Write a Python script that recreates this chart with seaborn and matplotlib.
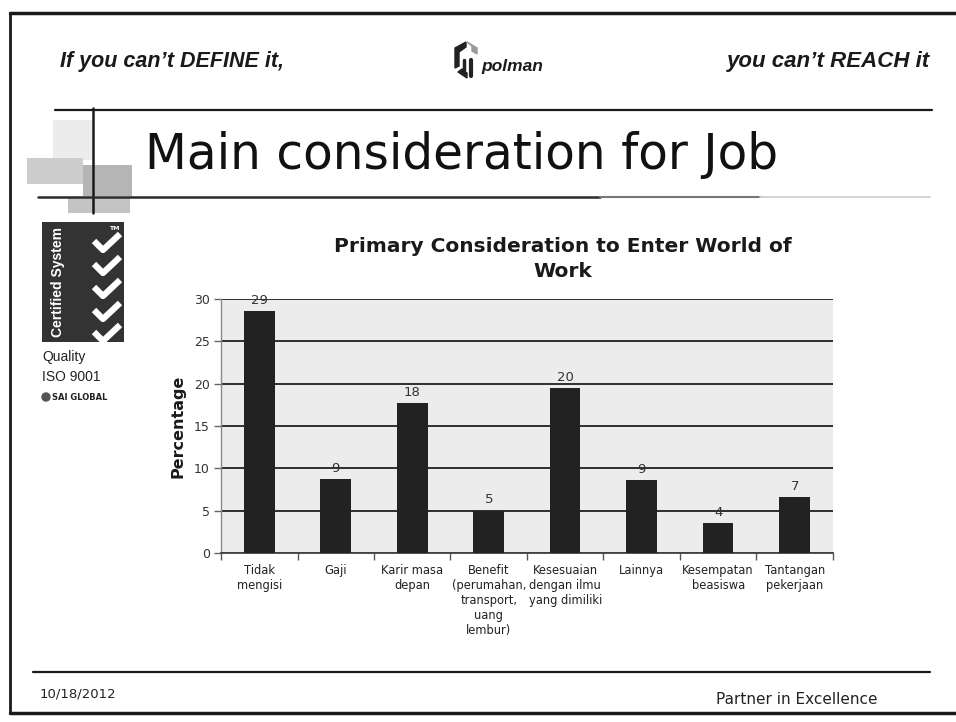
import matplotlib
matplotlib.use('Agg')
import matplotlib.pyplot as plt
from matplotlib.patches import Rectangle, Polygon
import pandas as pd
import seaborn as sns

# Chart data
categories = ['Tidak\nmengisi', 'Gaji', 'Karir masa\ndepan',
              'Benefit\n(perumahan,\ntransport,\nuang\nlembur)',
              'Kesesuaian\ndengan ilmu\nyang dimiliki', 'Lainnya',
              'Kesempatan\nbeasiswa', 'Tantangan\npekerjaan']
percentages = [28.6, 8.7, 17.7, 5.0, 19.5, 8.6, 3.5, 6.6]
y_ticks = [0, 5, 10, 15, 20, 25, 30]

df = pd.DataFrame({'category': categories, 'pct': percentages})

sns.set_theme(style='white')
plt.rcParams['font.family'] = ['DejaVu Sans']

fig = plt.figure(figsize=(9.56, 7.22), dpi=100)
fig.patch.set_facecolor('white')

# Background axes in pixel coordinates for the slide decoration
bg = fig.add_axes([0, 0, 1, 1], zorder=0)
bg.set_xlim(0, 956)
bg.set_ylim(722, 0)
bg.axis('off')

# slide frame
bg.plot([10, 956], [13, 13], color='#1a1a1a', lw=2.5)
bg.plot([10, 10], [13, 713], color='#1a1a1a', lw=2)
bg.plot([10, 956], [713, 713], color='#1a1a1a', lw=2.5)

# header
bg.text(60, 62, "If you can\u2019t DEFINE it,", family='Liberation Sans', weight='bold',
        style='italic', fontsize=15.5, va='center', ha='left', color='#1a1a1a')
bg.text(930, 62, "you can\u2019t REACH it", family='Liberation Sans', weight='bold',
        style='italic', fontsize=16, va='center', ha='right', color='#1a1a1a')
# polman logo
bg.add_patch(Polygon([[455, 48], [466, 42], [466, 47], [459, 52], [459, 66], [455, 68]],
                     closed=True, color='#222222'))
bg.add_patch(Polygon([[467, 42], [477, 48], [477, 54], [472, 51], [472, 46]],
                     closed=True, color='#9a9a9a'))
bg.add_patch(Polygon([[458, 72], [467, 78], [467, 73], [462, 69]], closed=True, color='#222222'))
bg.plot([471, 471], [60, 76], color='#222222', lw=3)
bg.plot([464, 464], [60, 70], color='#222222', lw=2.5)
bg.text(481, 66, 'polman', family='Liberation Sans', weight='bold', style='italic',
        fontsize=12.5, va='center', ha='left', color='#1a1a1a')

# title block decoration
bg.add_patch(Rectangle((53, 120), 39, 40, color='#ececec', lw=0))
bg.add_patch(Rectangle((27, 158), 56, 26, color='#cdcdcd', lw=0))
bg.add_patch(Rectangle((83, 165), 49, 31, color='#b5b5b5', lw=0))
bg.add_patch(Rectangle((68, 197), 62, 16, color='#c4c4c4', lw=0))
bg.plot([55, 932], [110, 110], color='#1a1a1a', lw=1.6)
bg.plot([93, 93], [108, 213], color='#1a1a1a', lw=1.8)
bg.plot([38, 600], [197, 197], color='#2a2a2a', lw=1.8)
bg.plot([600, 760], [197, 197], color='#777777', lw=1.5)
bg.plot([760, 930], [197, 197], color='#cccccc', lw=1.2)
bg.text(145, 155, 'Main consideration for Job', fontsize=35, va='center', ha='left',
        color='#111111')

# certified system badge
bg.add_patch(Rectangle((42, 222), 82, 120, color='#333333', lw=0))
bg.text(58, 282, 'Certified System', rotation=90, color='white', weight='bold',
        family='Liberation Sans', fontsize=10, va='center', ha='center')
for cy in [245, 268, 291, 314, 336]:
    bg.plot([94, 103, 120], [cy - 4, cy + 5, cy - 11], color='white', lw=4.5,
            solid_capstyle='butt')
bg.text(114, 228, 'TM', color='white', fontsize=4.5, weight='bold', ha='center', va='center')
bg.text(42, 357, 'Quality', fontsize=10, family='Liberation Sans', va='center',
        color='#222222')
bg.text(42, 377, 'ISO 9001', fontsize=10, family='Liberation Sans', va='center',
        color='#222222')
bg.add_patch(plt.Circle((46, 397), 4, color='#555555'))
bg.text(52, 397, 'SAI GLOBAL', fontsize=6, weight='bold', va='center', color='#222222')

# footer
bg.plot([33, 930], [672, 672], color='#1a1a1a', lw=1.6)
bg.text(40, 694, '10/18/2012', fontsize=9.5, va='center', ha='left', color='#222222')
bg.text(878, 699, 'Partner in Excellence', fontsize=11, va='center', ha='right',
        color='#222222')

# chart title
bg.text(563, 259, 'Primary Consideration to Enter World of\nWork', fontsize=14.5,
        weight='bold', ha='center', va='center', color='#1a1a1a', linespacing=1.35)

# Bar chart
ax = fig.add_axes([0.2312, 0.2341, 0.640, 0.3518], zorder=1)
ax.set_facecolor('#ececec')
sns.barplot(data=df, x='category', y='pct', color='#222222', saturation=1,
            width=0.4, ax=ax, zorder=3, linewidth=0, edgecolor='#222222')
ax.set_ylim(0, 30)
ax.set_xlim(-0.5, len(categories) - 0.5)
ax.set_yticks(y_ticks)
ax.yaxis.grid(True, color='#2e2e2e', lw=1.4)
ax.set_axisbelow(True)
for side in ['top', 'right']:
    ax.spines[side].set_visible(False)
ax.spines['left'].set_color('#888888')
ax.spines['left'].set_linewidth(1)
ax.spines['bottom'].set_color('#444444')
ax.spines['bottom'].set_linewidth(1.3)
ax.tick_params(axis='y', which='major', length=5, width=1, color='#666666',
               labelsize=9, labelcolor='#333333', left=True, pad=3)
ax.tick_params(axis='x', which='major', length=0, labelsize=8.3, labelcolor='#222222', pad=8)
ax.set_xticks([i - 0.5 for i in range(len(categories) + 1)], minor=True)
ax.tick_params(axis='x', which='minor', length=5, width=1, color='#555555', bottom=True)
ax.set_xlabel('')
ax.set_ylabel('Percentage', fontsize=11.5, weight='bold', color='#1a1a1a', labelpad=6)
for lbl in ax.get_xticklabels():
    lbl.set_linespacing(1.2)
    lbl.set_va('top')
ax.bar_label(ax.containers[0], fmt='%.0f', fontsize=9.5, color='#333333', padding=3)

fig.savefig('out.png', dpi=100, facecolor='white')
